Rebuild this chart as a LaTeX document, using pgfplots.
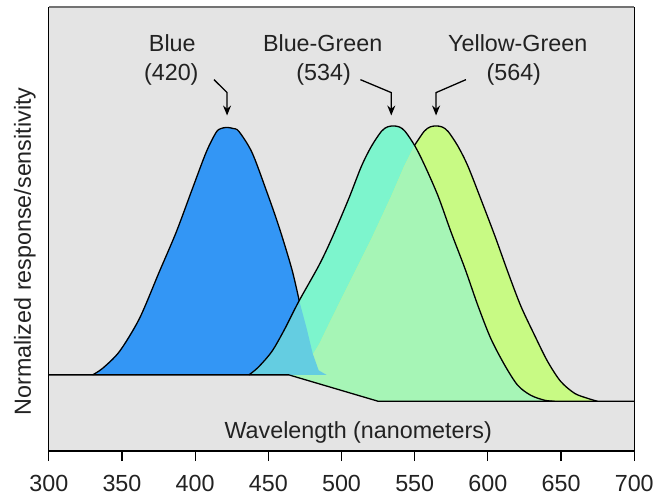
\documentclass[border=0pt]{standalone}
\usepackage{fontspec}
\setmainfont{Liberation Sans}
\usepackage{pgfplots}
\pgfplotsset{compat=1.18}
\usetikzlibrary{arrows.meta}
\definecolor{plotbg}{HTML}{E4E4E4}
\definecolor{cblue}{HTML}{3396F5}
\definecolor{caqua}{HTML}{7DF5CD}
\definecolor{cyg}{HTML}{C8FA84}
\definecolor{cover}{HTML}{A6F5B6}
\definecolor{ccyan}{HTML}{64CDE1}
\definecolor{txt}{HTML}{222222}
\begin{document}
\begin{tikzpicture}
\begin{axis}[
  scale only axis, width=588bp, height=446bp,
  xmin=300, xmax=700, ymin=0, ymax=446,
  axis background/.style={fill=plotbg},
  axis line style={draw=none},
  xtick={300,350,...,700}, ytick=\empty,
  xtick pos=left, tick align=outside,
  major tick length=10bp,
  tick style={black, line width=1.2bp},
  xticklabel style={font=\fontsize{23.5}{28}\selectfont, text=txt, yshift=-11bp},
  /pgf/number format/assume math mode=true,
  /pgf/number format/1000 sep={},
  clip=false,
]
% ---- fills (opaque, drawn in layers) ----
% Blue
\addplot[fill=cblue, draw=none] coordinates {
(329.9,76.5) (336.7,83) (348.3,100) (361.9,133) (375.5,180) (387.1,220) (398.0,263)
(407.5,300) (414.3,320) (417.8,324) (421.8,325) (425.8,324) (429.9,321) (438.8,300)
(448.3,263) (457.1,226) (466.0,183) (470.7,153) (476.2,123) (480.3,98) (484.4,81) (489.8,76.5)};
% Blue-Green
\addplot[fill=caqua, draw=none] coordinates {
(436.7,76.5) (443,84) (452.4,100) (461,122) (470.7,150) (484.4,186) (493.2,213) (504.8,253)
(513.6,286) (520.4,306) (527.2,321) (531.3,325.5) (535.4,326.5) (539.5,325.5) (543.5,321)
(550.3,306) (557.1,286) (566.0,256) (574.8,220) (584.4,183) (593.2,146) (602.0,113)
(611.6,86) (620.4,66) (629.3,56) (638.8,51) (645.6,50) (525,50) (464,76.5)};
% Yellow-Green
\addplot[fill=cyg, draw=none] coordinates {
(465.3,76) (471,82) (477.6,90) (485,108) (493.2,133) (506.8,173) (520.4,213) (534.0,256)
(542.8,286) (549.6,306) (556.4,321) (560.5,325.5) (564.6,326.5) (568.7,325.5) (572.8,321)
(579.6,306) (586.4,286) (595.2,253) (604.8,216) (613.6,180) (622.4,146) (632.0,116)
(640.8,90) (649.7,70) (659.2,58) (668.0,53) (674.8,50) (525,50)};
% Overlap Yellow-Green / Blue-Green
\addplot[fill=cover, draw=none] coordinates {
(465.3,76) (471,82) (477.6,90) (485,108) (493.2,133) (506.8,173) (520.4,213) (534.0,256)
(542.8,286) (549.9,307) (557.1,286) (566.0,256) (574.8,220) (584.4,183) (593.2,146)
(602.0,113) (611.6,86) (620.4,66) (629.3,56) (638.8,51) (645.6,50) (525,50)};
% Overlap Blue / Blue-Green
\addplot[fill=ccyan, draw=none] coordinates {
(436.7,76.5) (443,84) (452.4,100) (461,122) (471.1,151) (476.2,123) (480.3,98) (484.4,81) (489.8,76.5)};
% ---- outlines ----
\addplot[black, line width=1.3bp] coordinates {(300,76.5) (464,76.5) (525,50) (700,50)};
\addplot[black, line width=1.3bp, smooth] coordinates {
(329.9,76.5) (336.7,83) (348.3,100) (361.9,133) (375.5,180) (387.1,220) (398.0,263)
(407.5,300) (414.3,320) (417.8,324) (421.8,325) (425.8,324) (429.9,321) (438.8,300)
(448.3,263) (457.1,226) (466.0,183) (471.1,151)};
\addplot[black, line width=1.3bp, smooth] coordinates {
(436.7,76.5) (443,84) (452.4,100) (461,122) (470.7,150) (484.4,186) (493.2,213) (504.8,253)
(513.6,286) (520.4,306) (527.2,321) (531.3,325.5) (535.4,326.5) (539.5,325.5) (543.5,321)
(550.3,306) (557.1,286) (566.0,256) (574.8,220) (584.4,183) (593.2,146) (602.0,113)
(611.6,86) (620.4,66) (629.3,56) (638.8,51) (645.6,50)};
\addplot[black, line width=1.3bp, smooth] coordinates {
(549.9,307) (556.4,321) (560.5,325.5) (564.6,326.5) (568.7,325.5) (572.8,321)
(579.6,306) (586.4,286) (595.2,253) (604.8,216) (613.6,180) (622.4,146) (632.0,116)
(640.8,90) (649.7,70) (659.2,58) (668.0,53) (674.8,50)};
% ---- frame ----
\draw[black, line width=1bp] (rel axis cs:0,0) -- (rel axis cs:0,1);
\draw[black, line width=1bp] (rel axis cs:1,0) -- (rel axis cs:1,1);
\draw[black!55, line width=1.5bp] (rel axis cs:0,1) -- (rel axis cs:1,1);
\draw[black, line width=2bp] (rel axis cs:0,0) -- (rel axis cs:1,0);
% ---- annotations ----
\tikzset{lab/.style={anchor=base, text=txt, font=\fontsize{23.5}{28}\selectfont, inner sep=0pt}}
\node[lab] at (axis cs:384.4,401) {Blue};
\node[lab] at (axis cs:383.7,372) {(420)};
\node[lab] at (axis cs:487.1,401) {Blue-Green};
\node[lab] at (axis cs:487.8,372) {(534)};
\node[lab] at (axis cs:620.4,401) {Yellow-Green};
\node[lab] at (axis cs:617.7,372) {(564)};
\draw[line width=1.3bp, -{Stealth[length=10bp, width=8bp]}] (axis cs:412.9,373) -- (axis cs:421.8,360) -- (axis cs:421.8,337);
\draw[line width=1.3bp, -{Stealth[length=10bp, width=8bp]}] (axis cs:512.9,373) -- (axis cs:534.0,360) -- (axis cs:534.0,337);
\draw[line width=1.3bp, -{Stealth[length=10bp, width=8bp]}] (axis cs:585.0,373) -- (axis cs:564.6,360) -- (axis cs:564.6,337);
\node[lab] at (axis cs:511.4,13) {Wavelength (nanometers)};
\node[lab, rotate=90] at (axis cs:287.8,200.5) {Normalized response/sensitivity};
% bounding box
\path (rel axis cs:0,0) ++(-49bp,-41bp);
\path (rel axis cs:1,1) ++(20bp,7bp);
\end{axis}
\end{tikzpicture}
\end{document}
